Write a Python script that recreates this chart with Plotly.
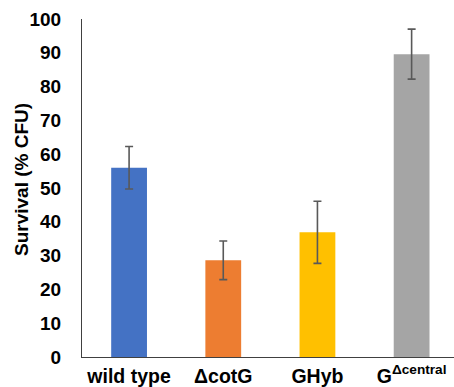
import plotly.graph_objects as go

categories = ["wild type", "ΔcotG", "GHyb", "G<sup>Δcentral</sup>"]
survival = [56.0, 28.6, 36.9, 89.6]
errors = [6.3, 5.7, 9.2, 7.4]
colors = ["#4472C4", "#ED7D31", "#FFC000", "#A5A5A5"]
y_ticks = [0, 10, 20, 30, 40, 50, 60, 70, 80, 90, 100]
y_title = "Survival (% CFU)"

fig = go.Figure(go.Bar(
    x=categories, y=survival, marker_color=colors, marker_line_width=0,
    error_y=dict(type="data", array=errors, color="#595959", thickness=1.6, width=4),
))

font = "Arial, Liberation Sans, sans-serif"
fig.update_layout(
    width=454, height=387, plot_bgcolor="white", paper_bgcolor="white",
    margin=dict(l=82, r=0, t=19, b=30, autoexpand=False), bargap=0.62, showlegend=False,
    font=dict(family=font, size=19, color="black"),
)
fig.update_xaxes(range=[-0.5, 3.45], showline=True, linecolor="#404040", linewidth=1.2,
                 ticks="", tickfont=dict(size=19.5, family=font, weight="bold"),
                 ticklabelstandoff=1, showgrid=False, automargin=False)
fig.update_yaxes(range=[0, 100], tickvals=y_ticks, showline=True, linecolor="#404040",
                 linewidth=1.2, ticks="", showgrid=False, zeroline=False, automargin=False,
                 tickfont=dict(size=19, family=font, weight="bold"), ticklabelstandoff=16)
fig.add_annotation(text=y_title, xref="paper", yref="paper", x=-0.161, y=0.524,
                   xanchor="center", yanchor="middle", textangle=-90, showarrow=False,
                   font=dict(size=19, family=font, weight="bold", color="black"))
fig.write_html("out.html", config={"displayModeBar": False},
               post_script="document.body.style.margin='0px';")
